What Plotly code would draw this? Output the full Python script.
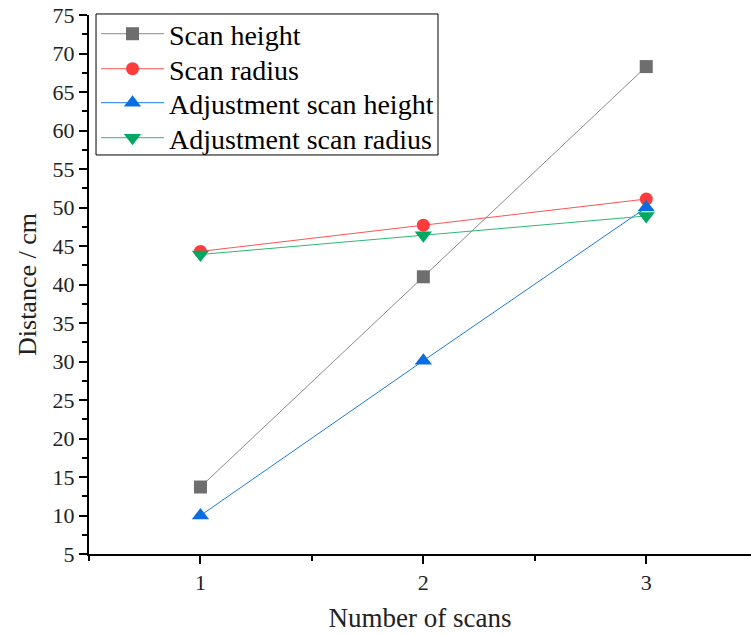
import plotly.graph_objects as go

scans = [1, 2, 3]
scan_height = [13.7, 41.0, 68.3]
scan_radius = [44.3, 47.7, 51.1]
adj_scan_height = [10.0, 30.1, 50.0]
adj_scan_radius = [43.9, 46.4, 48.9]

series = [
    ("Scan height", scan_height, "square", "#6e6e6e", "#8a8a8a", 13),
    ("Scan radius", scan_radius, "circle", "#ff3b3b", "#ff5555", 13),
    ("Adjustment scan height", adj_scan_height, "triangle-up", "#0a6ee0", "#1a7ae8", 15),
    ("Adjustment scan radius", adj_scan_radius, "triangle-down", "#00a862", "#2db874", 15),
]

# one legend per entry so the entries can sit at the reference's tighter spacing
legend_ids = ["legend", "legend2", "legend3", "legend4"]
legend_y = [0.9647, 0.8998, 0.8367, 0.7718]

font_family = "Liberation Serif, Times New Roman, serif"

fig = go.Figure()
for (name, ys, sym, mc, lc, sz), lid in zip(series, legend_ids):
    fig.add_trace(go.Scatter(
        x=scans, y=ys, name=name, mode="lines+markers",
        line=dict(color=lc, width=1),
        marker=dict(symbol=sym, color=mc, size=sz, line=dict(width=0)),
        legend=lid,
    ))

legend_layout = {}
for lid, ly in zip(legend_ids, legend_y):
    legend_layout[lid] = dict(
        x=0.0106, y=ly, xanchor="left", yanchor="middle",
        borderwidth=0, bgcolor="rgba(0,0,0,0)",
        font=dict(size=28, family=font_family, color="black"),
        itemwidth=63,
    )

fig.update_layout(
    width=751, height=635,
    margin=dict(l=89, r=0, t=15, b=81),
    plot_bgcolor="white", paper_bgcolor="white",
    font=dict(family=font_family, color="#222222"),
    showlegend=True,
    **legend_layout,
)
# legend frame
fig.add_shape(type="rect", xref="paper", yref="paper",
              x0=0.0106, x1=0.5272, y0=0.7403, y1=1.0019,
              line=dict(color="black", width=1), fillcolor="white", layer="above")

fig.update_xaxes(
    range=[0.5, 3.47], tickvals=[1, 2, 3],
    showgrid=False, zeroline=False,
    showline=True, linecolor="black", linewidth=2,
    ticks="outside", ticklen=8, tickwidth=2, tickcolor="black",
    minor=dict(tickvals=[0.5, 1.5, 2.5], ticks="outside", ticklen=5, tickwidth=1.5, tickcolor="black"),
    tickfont=dict(size=22, family=font_family, color="#222222"),
    title=dict(text="Number of scans", font=dict(size=27, family=font_family, color="#222222"), standoff=14),
)
fig.update_yaxes(
    range=[5, 75], tickvals=list(range(5, 80, 5)),
    showgrid=False, zeroline=False,
    showline=True, linecolor="black", linewidth=2,
    ticks="outside", ticklen=8, tickwidth=2, tickcolor="black",
    minor=dict(dtick=2.5, tick0=2.5, ticks="outside", ticklen=5, tickwidth=1.5, tickcolor="black"),
    tickfont=dict(size=22, family=font_family, color="#222222"),
    title=dict(text="Distance / cm", font=dict(size=26, family=font_family, color="#222222"), standoff=8),
)

fig.write_html("out.html", config={"displayModeBar": False},
               post_script="document.body.style.margin='0px';")
